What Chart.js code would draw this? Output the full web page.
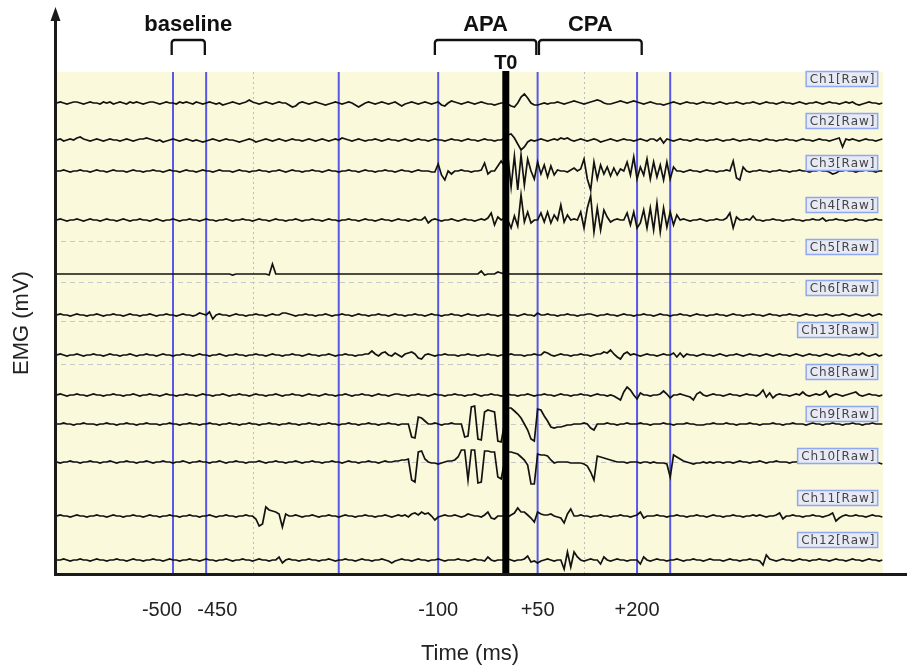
<!DOCTYPE html>
<html><head><meta charset="utf-8">
<script src="https://cdn.jsdelivr.net/npm/chart.js@4.4.1/dist/chart.umd.min.js"></script>
<style>html,body{margin:0;padding:0;background:#fff;}canvas{display:block;}</style>
</head><body>
<canvas id="c" width="907" height="667"></canvas>
<script>
// ---- sampling grid (ms) ----
const timeStartMs = -675, timeStepMs = 5, sampleCount = 250;
const timesMs = Array.from({length: sampleCount}, (_, i) => timeStartMs + i * timeStepMs);

// ---- channels (top to bottom) ----
const channelNames = ['Ch1','Ch2','Ch3','Ch4','Ch5','Ch6','Ch13','Ch8','Ch9','Ch10','Ch11','Ch12'];

// ---- raw EMG deflections (one value every 5 ms) ----
const ch1 = [
 0,1,0,-1,0,1,1,0,-1,0,1,0,0,-1,1,0,1,-1,0,1,
 0,-1,1,0,1,0,-1,0,1,1,0,-1,0,1,0,0,-1,1,0,1,
 0,-1,1,0,-1,0,1,0,-1,0,-2,-1,0,1,0,-1,0,1,3,1,
 0,-1,0,1,0,-1,0,1,0,0,-2,-4,-3,0,1,0,-1,0,1,0,
 -1,-2,-1,0,1,0,-1,0,1,0,-2,-4,-2,0,1,0,-1,0,1,0,
 -1,0,1,-1,-3,-1,0,1,0,-1,0,1,0,-1,0,1,-2,-3,0,2,
 1,0,-1,0,1,0,-1,0,1,0,-1,-1,-2,-1,0,0,-1,-3,-4,0,
 6,9,5,0,-2,-2,-1,0,-1,0,0,1,0,-1,0,1,2,1,0,-1,
 0,1,2,3,2,0,-1,-1,0,1,2,1,0,1,2,1,0,-1,0,1,
 0,-1,-1,-2,-1,0,1,0,-1,0,1,0,0,-1,0,1,0,0,-1,0,
 1,0,-1,0,0,1,0,-1,0,0,1,0,-1,0,1,0,0,-1,0,1,
 0,0,-1,0,1,0,-1,0,0,1,0,-1,0,1,0,0,-1,0,1,0,
 1,-1,-2,-1,0,1,0,0,-1,0];
const ch2 = [
 0,1,-1,0,1,0,2,3,1,0,-1,0,1,0,-1,0,1,0,0,-1,
 0,1,0,-1,0,1,1,2,1,0,-1,0,-2,-1,0,1,0,-1,0,1,
 0,-1,0,-1,-2,-1,0,1,0,-1,0,1,0,0,-1,-2,-1,0,1,0,
 -2,-1,0,1,0,-1,0,1,0,-1,0,1,0,0,-1,0,1,0,-1,0,
 1,0,-1,0,1,0,2,1,0,-1,0,1,0,-1,0,0,1,0,-1,0,
 1,0,0,-1,0,1,0,-1,0,1,0,0,-1,0,1,0,0,-1,0,1,
 0,0,-1,0,1,0,0,-1,0,1,0,0,-1,0,0,2,5,6,2,-4,
 -10,-7,-2,0,-1,0,1,0,-1,0,1,0,2,1,2,0,-1,0,1,0,
 -1,0,1,0,-2,-1,0,1,0,-1,0,1,0,0,-1,0,1,0,-1,1,
 1,-1,2,-3,1,0,-1,0,1,0,0,-1,0,1,0,0,-1,0,0,1,
 0,-1,0,0,1,0,-1,0,0,1,0,0,-1,0,1,0,0,-1,0,0,
 1,0,0,-1,0,1,0,0,-1,0,1,0,0,-1,0,1,2,-7,1,0,
 1,0,-1,0,1,0,0,-1,0,1];
const ch3 = [
 0,0,1,0,-1,0,0,1,0,0,-1,0,1,0,0,-1,0,1,0,0,
 0,-1,0,1,0,0,-1,0,0,1,0,0,-1,0,1,0,0,-1,0,1,
 0,0,-1,0,1,0,0,-1,0,1,0,0,0,-1,0,1,0,0,-1,0,
 0,1,0,0,-1,0,0,1,0,-1,0,1,0,0,-1,0,0,1,0,0,
 -1,0,1,0,0,-1,0,0,1,0,0,-1,0,1,0,0,-1,0,0,1,
 0,0,-1,0,1,0,0,-1,0,1,0,0,0,-1,-1,7,-4,-9,0,-3,
 0,0,1,0,0,-1,0,0,1,8,-3,0,0,5,10,5,16,-16,15,-19,
 16,-14,12,0,-8,9,-3,6,-6,5,-4,1,0,0,-1,1,3,0,2,12,
 -8,-19,9,-8,6,-3,4,-5,3,-4,2,0,9,-4,14,-8,4,-4,12,-8,
 9,-6,6,-9,9,-8,4,0,0,-1,0,1,0,0,-1,0,1,0,0,-1,
 0,0,1,0,10,-7,-9,4,0,-1,0,0,1,0,0,-1,0,0,1,0,
 0,-1,0,0,1,0,0,-1,0,0,1,0,0,-1,-3,-2,0,0,1,0,
 0,-1,0,0,1,0,0,-1,0,0];
const ch4 = [
 0,1,0,-1,0,0,1,0,-1,0,1,0,0,-1,0,1,0,0,-1,0,
 1,0,-1,0,0,1,0,0,-1,0,1,0,-1,0,0,1,0,-1,0,0,
 1,0,0,-1,0,1,0,0,-1,0,0,1,0,-1,0,0,1,0,0,-1,
 0,1,0,0,-1,0,1,0,0,-1,0,0,1,0,-1,0,0,1,0,0,
 -1,0,1,0,0,-1,0,0,1,0,0,-1,0,1,0,0,-1,0,1,0,
 0,-1,0,1,0,0,-1,0,1,0,0,3,-3,0,1,0,-1,0,0,1,
 0,-1,0,1,0,0,-1,0,1,0,2,7,-5,3,0,2,0,-8,4,-6,
 25,-2,8,-3,0,0,7,-2,8,-3,5,0,15,-2,5,0,1,0,8,-8,
 12,24,-12,12,-10,10,3,-2,0,1,0,0,7,-5,8,-8,-3,10,-8,12,
 -10,17,-12,12,-7,8,-5,5,0,1,0,-1,0,0,1,0,-1,0,0,1,
 0,0,2,7,-8,3,0,0,1,0,4,0,0,-1,0,0,1,0,0,-1,
 0,0,1,0,0,-1,0,0,1,0,0,2,-1,0,0,1,0,0,-1,0,
 0,1,0,0,-1,0,0,1,0,0];
const ch5 = [
 0,0,0,0,0,0,0,0,0,0,0,0,0,0,0,0,0,0,0,0,
 0,0,0,0,0,0,0,0,0,0,0,0,0,0,0,0,0,0,0,0,
 0,0,0,0,0,0,0,0,0,0,0,0,0,-1,0,0,0,0,0,0,
 0,0,0,0,-1,10,0,0,0,0,0,0,0,0,0,0,0,0,0,0,
 0,0,0,0,0,0,0,0,0,0,0,0,0,0,0,0,0,0,0,0,
 0,0,0,0,0,0,0,0,0,0,0,0,0,0,0,0,0,0,0,0,
 0,0,0,0,0,0,0,0,3,-1,0,0,0,2,1,0,0,0,0,0,
 0,0,0,0,0,0,0,0,0,0,0,0,0,0,0,0,0,0,0,0,
 0,0,0,0,0,0,0,0,0,0,0,0,0,0,0,0,0,0,0,0,
 0,0,0,0,0,0,0,0,0,0,0,0,0,0,0,0,0,0,0,0,
 0,0,0,0,0,0,0,0,0,0,0,0,0,0,0,0,0,0,0,0,
 0,0,0,0,0,0,0,0,0,0,0,0,0,0,0,0,0,0,0,0,
 0,0,0,0,0,0,0,0,0,0];
const ch6 = [
 0,1,0,0,-1,0,1,0,0,-1,0,0,1,0,-1,0,0,1,0,0,
 -1,0,1,0,0,-1,0,0,1,0,-1,0,0,1,0,0,-1,0,1,0,
 0,-1,0,2,1,0,3,-4,0,1,0,0,-1,0,1,0,0,-1,0,0,
 1,0,0,-1,0,1,0,0,2,2,1,0,-1,0,0,1,0,0,-1,0,
 0,1,0,-1,0,0,1,0,0,-1,0,1,0,0,-1,0,0,1,0,0,
 -1,0,1,0,0,-1,0,0,1,0,0,-1,0,1,0,0,-1,0,0,1,
 0,0,-1,0,1,0,0,-1,0,0,1,0,0,-1,0,0,1,0,0,-1,
 0,1,0,0,-1,2,0,0,1,0,0,-1,0,0,1,0,0,-1,0,0,
 1,1,0,-1,0,0,1,0,0,-1,0,1,0,0,-1,0,0,1,0,0,
 -1,0,1,0,0,-1,0,0,1,0,0,-1,0,1,0,0,-1,0,0,1,
 0,0,-1,0,1,0,0,-1,0,0,1,0,0,-1,0,1,0,0,-1,0,
 0,1,0,0,-1,0,1,0,0,-1,0,0,1,0,-1,0,0,1,0,-1,
 0,1,0,-1,0,1,-1,0,1,0];
const ch13 = [
 0,1,0,-1,0,0,1,0,-1,0,0,1,0,0,-1,0,1,0,0,-1,
 0,0,1,0,-1,0,0,1,0,0,-1,0,1,0,0,-1,0,0,1,0,
 0,-1,0,1,0,0,-1,0,0,1,0,-1,0,0,1,0,0,-1,0,0,
 1,0,0,-1,0,1,0,0,-1,0,0,1,0,0,-1,0,1,0,0,-1,
 0,0,1,0,-1,0,0,1,0,0,-1,0,0,1,1,4,1,-1,2,3,
 0,-1,2,0,-2,1,2,3,1,-3,-4,0,1,0,-1,0,0,1,0,0,
 0,-1,0,0,1,0,0,-1,0,0,1,0,0,-1,0,0,0,1,0,0,
 0,-1,0,0,1,0,0,3,2,0,-1,0,1,0,0,-1,0,0,1,0,
 0,-1,0,1,1,3,2,5,1,-2,-4,1,3,0,1,0,-1,0,1,0,
 0,-1,0,1,0,0,2,-2,2,-2,1,0,0,-1,0,1,0,0,-1,0,
 1,0,-1,0,0,1,0,-1,0,1,0,0,-1,0,1,0,-1,0,1,0,
 0,-1,0,1,0,-1,0,1,0,0,-1,0,1,0,-1,0,1,0,0,-1,
 0,1,0,2,0,-1,0,1,-1,0];
const ch8 = [
 0,1,0,-1,0,0,1,0,0,-1,0,1,0,0,-1,0,0,1,0,0,
 -1,0,0,1,0,-1,0,0,1,0,0,-1,0,1,0,0,-1,0,0,1,
 0,0,-1,0,1,0,0,-1,0,0,1,0,-1,0,0,1,0,0,-1,0,
 1,0,0,-1,0,0,1,0,-1,0,0,1,0,0,-1,0,1,0,0,-1,
 0,1,0,0,-1,0,0,1,0,-1,0,0,1,0,0,-1,0,1,0,0,
 -1,0,1,1,0,0,-1,0,0,1,0,0,-1,0,1,0,0,-1,0,0,
 1,0,0,-1,0,0,1,0,-1,0,0,1,0,0,-1,0,1,0,0,-1,
 0,0,1,0,-1,0,0,1,0,0,-1,0,1,0,0,-1,0,0,1,0,
 0,-1,0,1,0,0,-1,0,-1,-3,-5,3,8,5,0,-4,2,0,0,-1,
 0,0,1,4,1,-3,0,0,1,0,-1,-2,-5,1,3,0,-1,0,1,0,
 0,-1,0,1,0,0,-1,0,1,0,0,-1,1,5,-2,2,-3,0,1,0,
 0,-1,0,1,0,3,0,-1,0,1,0,1,4,-2,0,1,0,-1,0,1,
 2,3,0,-1,0,1,0,0,-1,0];
const ch9 = [
 0,0,1,0,0,-1,0,0,1,0,0,0,-1,0,0,1,0,0,-1,0,
 0,1,0,0,-1,0,0,1,0,0,0,-1,0,0,1,0,0,-1,0,0,
 1,0,0,-1,0,0,1,0,0,-1,0,0,1,0,0,-1,0,0,1,0,
 0,-1,0,0,1,0,0,-1,0,0,1,0,0,-1,0,0,1,0,0,-1,
 0,0,1,0,0,-1,0,0,1,0,0,-1,0,0,1,0,0,-1,0,0,
 1,0,0,-1,0,0,0,-13,-14,7,6,3,0,0,1,0,-1,0,0,1,
 0,0,0,-13,-12,17,18,-15,-16,12,14,13,12,-17,-18,0,16,16,13,10,
 6,0,-6,-15,-17,15,14,8,3,-3,-4,-3,-3,-2,-1,-1,0,0,0,1,
 0,-4,-6,0,0,0,1,0,0,-1,0,0,1,0,0,0,1,0,0,-1,
 0,0,0,1,0,0,-1,0,0,0,1,0,0,-1,-1,-1,0,0,1,0,
 0,0,1,0,0,-1,0,0,0,1,0,0,-1,0,0,0,1,0,0,-1,
 0,0,1,0,0,0,-1,0,1,0,0,-1,0,0,1,0,0,-1,0,0,
 1,0,0,-1,0,0,1,0,0,0];
const ch10 = [
 0,-1,0,0,1,0,0,-1,0,0,1,0,0,-1,0,0,1,0,-1,0,
 0,1,0,0,-1,0,0,1,0,-1,0,0,1,0,0,-1,0,0,1,0,
 -1,0,0,1,0,0,-1,0,0,1,0,-1,0,0,1,0,0,-1,0,0,
 0,1,0,-1,0,0,1,0,0,-1,0,0,1,0,-1,0,0,1,0,0,
 -1,0,0,1,0,0,-1,0,1,0,0,-1,0,0,1,0,0,-1,0,1,
 0,0,1,1,2,2,3,-18,-20,10,11,3,0,-1,-1,-2,-1,0,1,1,
 2,5,12,12,-18,12,12,-21,-20,11,11,10,10,-15,-17,0,10,10,9,8,
 5,2,-3,-22,-22,8,7,7,6,2,-1,0,0,0,0,-1,-1,-1,-1,-2,
 -4,-10,-18,6,5,4,3,2,1,0,0,0,-1,0,0,0,-1,0,0,-1,
 0,-1,-1,-1,-2,-15,7,5,3,1,0,-1,-2,-1,-1,0,-1,0,-1,0,
 0,-1,0,0,-1,0,1,0,0,-1,0,0,1,0,-1,0,0,1,0,0,
 0,-1,0,0,1,0,0,1,0,0,1,1,1,0,0,1,0,0,-1,0,
 0,0,1,0,0,-1,0,0,-1,-2];
const ch11 = [
 0,1,0,0,-1,0,1,0,0,-1,0,0,1,0,0,-1,0,1,0,0,
 -1,0,0,1,0,0,-1,0,1,0,0,-1,0,0,1,0,0,-1,0,0,
 1,0,0,-1,0,0,1,0,-1,0,0,1,0,0,-1,0,0,1,0,0,
 -3,-10,-8,9,6,5,4,2,-11,2,0,0,1,0,-1,0,0,1,0,-1,
 0,0,1,0,0,-1,0,1,0,0,-1,0,0,1,0,0,-1,0,0,1,
 0,-1,0,1,0,1,-1,2,3,1,4,2,3,0,-4,-1,0,1,0,0,
 1,0,-1,0,2,1,0,0,-1,1,4,-2,-3,0,0,0,-1,1,3,8,
 4,4,1,-2,-6,4,2,1,1,2,0,-1,-2,-7,2,7,0,0,1,0,
 0,-1,0,0,1,0,0,-1,0,0,1,0,0,-1,0,1,4,-2,0,0,
 0,1,0,0,-1,0,0,1,0,0,-1,0,0,1,0,0,-1,0,1,0,
 0,-1,0,0,1,0,0,-1,0,0,1,0,1,0,-1,0,0,1,3,-3,
 0,0,1,0,0,-1,0,0,1,0,0,-1,0,1,3,-5,-2,0,1,0,
 0,1,0,0,-1,0,1,0,0,-1];
const ch12 = [
 0,0,1,0,-1,0,0,1,0,0,-1,0,1,0,0,-1,0,0,1,0,
 0,-1,0,1,0,0,-1,0,0,1,0,0,-1,0,1,0,0,-1,0,0,
 1,0,0,-1,0,1,0,0,-1,0,0,1,0,-1,0,0,1,0,0,-1,
 0,1,0,0,-1,0,0,3,-3,0,1,0,0,-1,0,0,1,0,0,-1,
 0,0,1,0,-1,0,0,1,0,0,-1,0,1,0,0,-1,0,0,1,0,
 -1,-3,-1,0,1,0,0,-1,0,1,0,0,-1,0,0,1,0,-1,0,0,
 0,1,0,0,-1,0,1,0,0,-1,3,0,-1,0,0,0,1,0,-1,0,
 0,1,4,-2,-1,-3,-1,0,1,0,-1,0,0,-9,8,-7,8,3,0,-1,
 0,1,0,0,-4,3,0,-1,0,1,0,0,-1,0,0,0,-4,3,0,-1,
 0,1,0,0,-1,0,0,1,0,-1,0,0,1,0,0,-1,0,1,0,0,
 0,-1,0,1,0,0,-1,0,0,1,0,0,-1,-5,5,1,0,-1,0,1,
 0,0,-1,0,1,0,0,-1,0,0,1,0,0,-1,0,1,0,0,-1,0,
 1,0,0,-1,0,1,0,0,-1,0];

const channelSeries = [ch1, ch2, ch3, ch4, ch5, ch6, ch13, ch8, ch9, ch10, ch11, ch12];

// ---- time markers & ticks ----
const markerLinesMs = [-500, -450, -250, -100, 50, 200, 250];
const dottedLinesMs = [-380, 120];
const t0Ms = 2;
const tickValuesMs = [-500, -450, -100, 50, 200];
const tickLabels = ['-500    ', '    -450', '-100', '+50', '+200'];
const phaseLabels = ['baseline', 'APA', 'CPA'];
const phaseFromMs = [-502, -105, 52];
const phaseToMs = [-452, 48, 207];

// ---- layout (vertical stacking of the traces, label boxes, software grid rows) ----
const channelOffsets = [471, 434, 403, 354, 300, 259, 219, 179, 150, 112, 58, 14];
const labelBoxLevels = [495, 453, 411, 369, 327, 286, 244, 202, 160, 118, 76, 34];
const dashedRowLevels = [333, 292, 253, 210, 150, 112];
const dashedEndMs = 445;
const labelBoxRightMs = 563;

const FONT = '"Liberation Sans", Arial, Helvetica, sans-serif';

const overlay = {
  id: 'overlay',
  beforeDraw(chart) {
    const {ctx, chartArea: a} = chart;
    ctx.save();
    ctx.fillStyle = '#faf9dc';
    ctx.fillRect(a.left, a.top, a.right - a.left, a.bottom - a.top);
    ctx.restore();
  },
  beforeDatasetsDraw(chart) {
    const {ctx, chartArea: a, scales: {x, y}} = chart;
    ctx.save();
    ctx.lineWidth = 1;
    ctx.strokeStyle = '#c8c8c8';
    ctx.setLineDash([5, 4]);
    const xe = x.getPixelForValue(dashedEndMs);
    for (const v of dashedRowLevels) {
      const py = Math.round(y.getPixelForValue(v)) + 0.5;
      ctx.beginPath(); ctx.moveTo(a.left + 4, py); ctx.lineTo(xe, py); ctx.stroke();
    }
    ctx.strokeStyle = '#bdbdbd';
    ctx.setLineDash([2, 3]);
    for (const t of dottedLinesMs) {
      const px = Math.round(x.getPixelForValue(t)) + 0.5;
      ctx.beginPath(); ctx.moveTo(px, a.top); ctx.lineTo(px, a.bottom); ctx.stroke();
    }
    ctx.setLineDash([]);
    ctx.strokeStyle = '#5858e8';
    ctx.lineWidth = 2;
    for (const t of markerLinesMs) {
      const px = x.getPixelForValue(t);
      ctx.beginPath(); ctx.moveTo(px, a.top); ctx.lineTo(px, a.bottom); ctx.stroke();
    }
    ctx.restore();
  },
  afterDatasetsDraw(chart) {
    const {ctx, chartArea: a, scales: {x, y}} = chart;
    ctx.save();
    // T0 bar
    const p0 = x.getPixelForValue(t0Ms);
    ctx.fillStyle = '#000';
    ctx.fillRect(p0 - 3.5, a.top - 1, 7, a.bottom - a.top + 1);
    // channel label boxes
    const right = x.getPixelForValue(labelBoxRightMs);
    ctx.font = '12px "DejaVu Sans", sans-serif';
    ctx.textBaseline = 'middle';
    ctx.textAlign = 'left';
    const spacing = 0.9;
    channelNames.forEach((name, k) => {
      const txt = name + '[Raw]';
      const w = ctx.measureText(txt).width + spacing * (txt.length - 1);
      const bw = w + 7, bh = 15;
      const cy = y.getPixelForValue(labelBoxLevels[k]);
      const left = right - bw;
      ctx.fillStyle = '#e7e9f4';
      ctx.fillRect(left, cy - bh / 2, bw, bh);
      ctx.strokeStyle = '#8fa8ee';
      ctx.lineWidth = 1.5;
      ctx.strokeRect(left, cy - bh / 2, bw, bh);
      ctx.fillStyle = '#444';
      let cx = left + 3.5;
      for (const ch of txt) {
        ctx.fillText(ch, cx, cy + 0.5);
        cx += ctx.measureText(ch).width + spacing;
      }
    });
    ctx.restore();
  },
  afterDraw(chart) {
    const {ctx, chartArea: a, scales: {x}} = chart;
    ctx.save();
    ctx.strokeStyle = '#1a1a1a';
    ctx.fillStyle = '#1a1a1a';
    ctx.lineWidth = 3;
    const ax = a.left - 1.5;
    ctx.beginPath(); ctx.moveTo(ax, 18); ctx.lineTo(ax, a.bottom + 2); ctx.stroke();
    ctx.beginPath(); ctx.moveTo(ax, 7); ctx.lineTo(ax - 5, 21); ctx.lineTo(ax + 5, 21); ctx.closePath(); ctx.fill();
    ctx.beginPath(); ctx.moveTo(ax - 1.5, a.bottom + 0.5); ctx.lineTo(907, a.bottom + 0.5); ctx.stroke();
    // phase brackets & labels
    ctx.strokeStyle = '#111';
    ctx.fillStyle = '#111';
    ctx.lineWidth = 2.3;
    ctx.lineJoin = 'round';
    ctx.textAlign = 'center';
    ctx.textBaseline = 'alphabetic';
    ctx.font = 'bold 22px ' + FONT;
    phaseLabels.forEach((lab, k) => {
      const x1 = x.getPixelForValue(phaseFromMs[k]);
      const x2 = x.getPixelForValue(phaseToMs[k]);
      const r = 3;
      ctx.beginPath();
      ctx.moveTo(x1, 55); ctx.lineTo(x1, 40 + r);
      ctx.arcTo(x1, 40, x1 + r, 40, r);
      ctx.lineTo(x2 - r, 40);
      ctx.arcTo(x2, 40, x2, 40 + r, r);
      ctx.lineTo(x2, 55);
      ctx.stroke();
      ctx.fillText(lab, (x1 + x2) / 2, 31);
    });
    ctx.font = 'bold 20px ' + FONT;
    ctx.fillText('T0', x.getPixelForValue(t0Ms), 69);
    ctx.restore();
  }
};

const datasets = channelSeries.map((vals, k) => ({
  label: channelNames[k],
  data: vals.map((v, i) => ({x: timesMs[i], y: channelOffsets[k] + v})),
  borderColor: '#121212',
  borderWidth: 1.7,
  pointRadius: 0,
  tension: 0,
  fill: false
}));

new Chart(document.getElementById('c'), {
  type: 'line',
  data: {datasets},
  plugins: [overlay],
  options: {
    responsive: false,
    devicePixelRatio: 1,
    animation: false,
    events: [],
    layout: {padding: {top: 72, right: 24, left: 0, bottom: 0}},
    plugins: {legend: {display: false}, tooltip: {enabled: false}},
    scales: {
      x: {
        type: 'linear', position: 'bottom', min: -675, max: 571,
        grid: {display: false, drawTicks: false},
        border: {display: false},
        afterBuildTicks: (s) => { s.ticks = tickValuesMs.map(v => ({value: v})); },
        afterFit: (s) => { s.height = 93; },
        ticks: {
          autoSkip: false, maxRotation: 0, minRotation: 0, padding: 24,
          color: '#222', font: {size: 20, family: FONT},
          callback: (value, index) => tickLabels[index]
        },
        title: {display: true, text: 'Time (ms)', color: '#222', font: {size: 22, family: FONT}, padding: {top: 0, bottom: 0}}
      },
      y: {
        type: 'linear', min: 0, max: 502,
        grid: {display: false, drawTicks: false},
        border: {display: false},
        ticks: {display: false},
        afterFit: (s) => { s.width = 57; },
        title: {display: true, text: 'EMG (mV)', color: '#222', font: {size: 22, family: FONT}, padding: {top: 9, bottom: 0}}
      }
    }
  }
});
</script>
</body></html>
